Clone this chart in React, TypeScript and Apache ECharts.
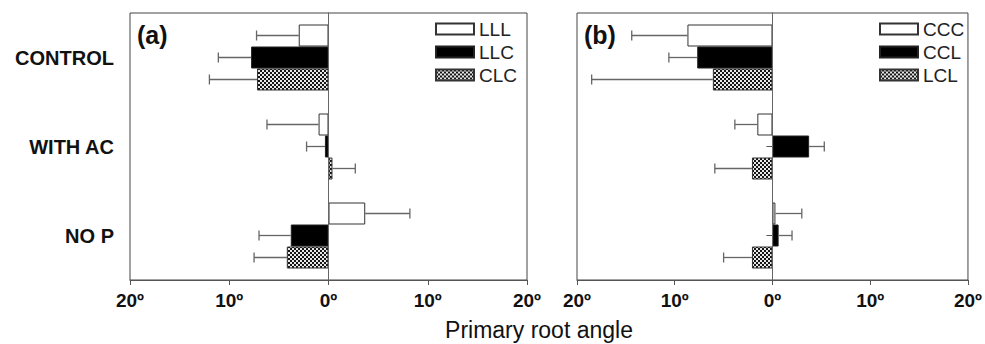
import React, { useEffect, useRef } from "react";
import * as echarts from "echarts";

const categories = ["CONTROL", "WITH AC", "NO P"];

// Panel (a)
const namesA = ["LLL", "LLC", "CLC"];
const LLL = [-3.0, -1.0, 3.7];
const LLL_err = [4.25, 5.2, 4.5];
const LLC = [-7.8, -0.36, -3.8];
const LLC_err = [3.3, 1.85, 3.2];
const CLC = [-7.2, 0.4, -4.2];
const CLC_err = [4.8, 2.3, 3.3];

// Panel (b)
const namesB = ["CCC", "CCL", "LCL"];
const CCC = [-8.7, -1.55, 0.3];
const CCC_err = [5.7, 2.3, 2.7];
const CCL = [-7.7, 3.75, 0.63];
const CCL_err = [2.9, 1.55, 1.37];
const LCL = [-6.1, -2.1, -2.1];
const LCL_err = [12.4, 3.8, 2.9];

const xTicks = [-20, -10, 0, 10, 20];

const FONT = "'Liberation Sans', Arial, Helvetica, sans-serif";
const BAR_W = 22;

function makePattern() {
  const c = document.createElement("canvas");
  c.width = 4;
  c.height = 4;
  const ctx = c.getContext("2d")!;
  ctx.fillStyle = "#151515";
  ctx.fillRect(0, 0, 4, 4);
  ctx.fillStyle = "#e8e8e8";
  ctx.fillRect(0, 0, 2, 2);
  ctx.fillRect(2, 2, 2, 2);
  return { image: c, repeat: "repeat", imageWidth: 4, imageHeight: 4 } as any;
}

export default function App() {
  const ref = useRef<HTMLDivElement>(null);
  useEffect(() => {
    if (!ref.current) return;
    const chart = echarts.init(ref.current, null, { renderer: "svg" });
    const pattern = makePattern();
    const styles = [
      { color: "#ffffff", borderColor: "#333", borderWidth: 1 },
      { color: "#000000", borderColor: "#222", borderWidth: 1 },
      { color: pattern, borderColor: "#333", borderWidth: 1 },
    ];

    const grids = [
      { left: 130, top: 13, width: 397, height: 267 },
      { left: 577, top: 13, width: 397, height: 267 },
    ];

    const xAxis = [0, 1].map((i) => ({
      type: "value",
      gridIndex: i,
      min: xTicks[0],
      max: xTicks[xTicks.length - 1],
      interval: 10,
      splitLine: { show: false },
      axisLine: { show: true, lineStyle: { color: "#555", width: 1 } },
      axisTick: { show: true, length: 5, lineStyle: { color: "#555" } },
      axisLabel: {
        show: true,
        margin: 11,
        color: "#111",
        fontSize: 19,
        fontWeight: "bold",
        fontFamily: FONT,
        formatter: (v: number) => Math.abs(v) + "º",
      },
    }));

    const yAxis = [0, 1].map((i) => ({
      type: "category",
      gridIndex: i,
      data: categories,
      inverse: true,
      axisLine: { show: true, lineStyle: { color: "#555", width: 1 } },
      axisTick: { show: true, alignWithLabel: true, length: 6, lineStyle: { color: "#555" } },
      axisLabel: {
        show: i === 0,
        margin: 16,
        color: "#111",
        fontSize: 20,
        fontWeight: "bold",
        fontFamily: FONT,
      },
    }));

    const panels = [
      { names: namesA, vals: [LLL, LLC, CLC], errs: [LLL_err, LLC_err, CLC_err] },
      { names: namesB, vals: [CCC, CCL, LCL], errs: [CCC_err, CCL_err, LCL_err] },
    ];

    const series: any[] = [];
    panels.forEach((p, pi) => {
      p.names.forEach((name, k) => {
        const s: any = {
          name,
          type: "bar",
          xAxisIndex: pi,
          yAxisIndex: pi,
          data: p.vals[k],
          barWidth: BAR_W,
          barGap: "0%",
          itemStyle: styles[k],
          z: 3,
        };
        if (k === 0) {
          s.markLine = {
            silent: true,
            symbol: ["none", "none"],
            label: { show: false },
            lineStyle: { color: "#666", type: "solid", width: 1 },
            data: [{ xAxis: 0 }],
          };
        }
        series.push(s);
      });
      const errData: any[] = [];
      p.vals.forEach((arr, k) => {
        arr.forEach((v, ci) => {
          errData.push([ci, v, p.errs[k][ci], k]);
        });
      });
      series.push({
        type: "custom",
        xAxisIndex: pi,
        yAxisIndex: pi,
        encode: { x: 1, y: 0 },
        data: errData,
        z: 4,
        silent: true,
        renderItem: (params: any, api: any) => {
          const ci = api.value(0);
          const v = api.value(1);
          const e = api.value(2);
          const k = api.value(3);
          const sign = v >= 0 ? 1 : -1;
          const p0 = api.coord([v, ci]);
          const p1 = api.coord([v + sign * e, ci]);
          const y = p0[1] + (k - 1) * BAR_W;
          const st = { stroke: "#666", lineWidth: 1.3 };
          return {
            type: "group",
            children: [
              { type: "line", shape: { x1: p0[0], y1: y, x2: p1[0], y2: y }, style: st },
              { type: "line", shape: { x1: p1[0], y1: y - 5, x2: p1[0], y2: y + 5 }, style: st },
            ],
          };
        },
      });
    });

    const legendCommon = {
      orient: "vertical",
      top: 19,
      itemWidth: 38,
      itemHeight: 11,
      itemGap: 3,
      padding: 0,
      icon: "rect",
      textStyle: { fontSize: 19, lineHeight: 20, color: "#222", fontFamily: FONT },
    };

    chart.setOption({
      animation: false,
      backgroundColor: "#ffffff",
      grid: grids.map((g) => ({ ...g, show: true, borderColor: "#444", borderWidth: 1, backgroundColor: "transparent" })),
      xAxis,
      yAxis,
      legend: [
        { ...legendCommon, left: 435, data: namesA },
        { ...legendCommon, left: 879, data: namesB },
      ],
      graphic: [
        {
          type: "text",
          left: 137,
          top: 22,
          style: { text: "(a)", fontSize: 25, fontWeight: "bold", fontFamily: FONT, fill: "#111" },
        },
        {
          type: "text",
          left: 584,
          top: 22,
          style: { text: "(b)", fontSize: 25, fontWeight: "bold", fontFamily: FONT, fill: "#111" },
        },
        {
          type: "text",
          x: 539,
          y: 330,
          style: {
            text: "Primary root angle",
            fontSize: 23,
            fontFamily: FONT,
            fill: "#111",
            align: "center",
            verticalAlign: "middle",
          },
        },
      ],
      series,
    });
    return () => chart.dispose();
  }, []);
  return (
    <div
      ref={ref}
      style={{ position: "fixed", left: 0, top: 0, width: 985, height: 344, background: "#fff" }}
    />
  );
}
